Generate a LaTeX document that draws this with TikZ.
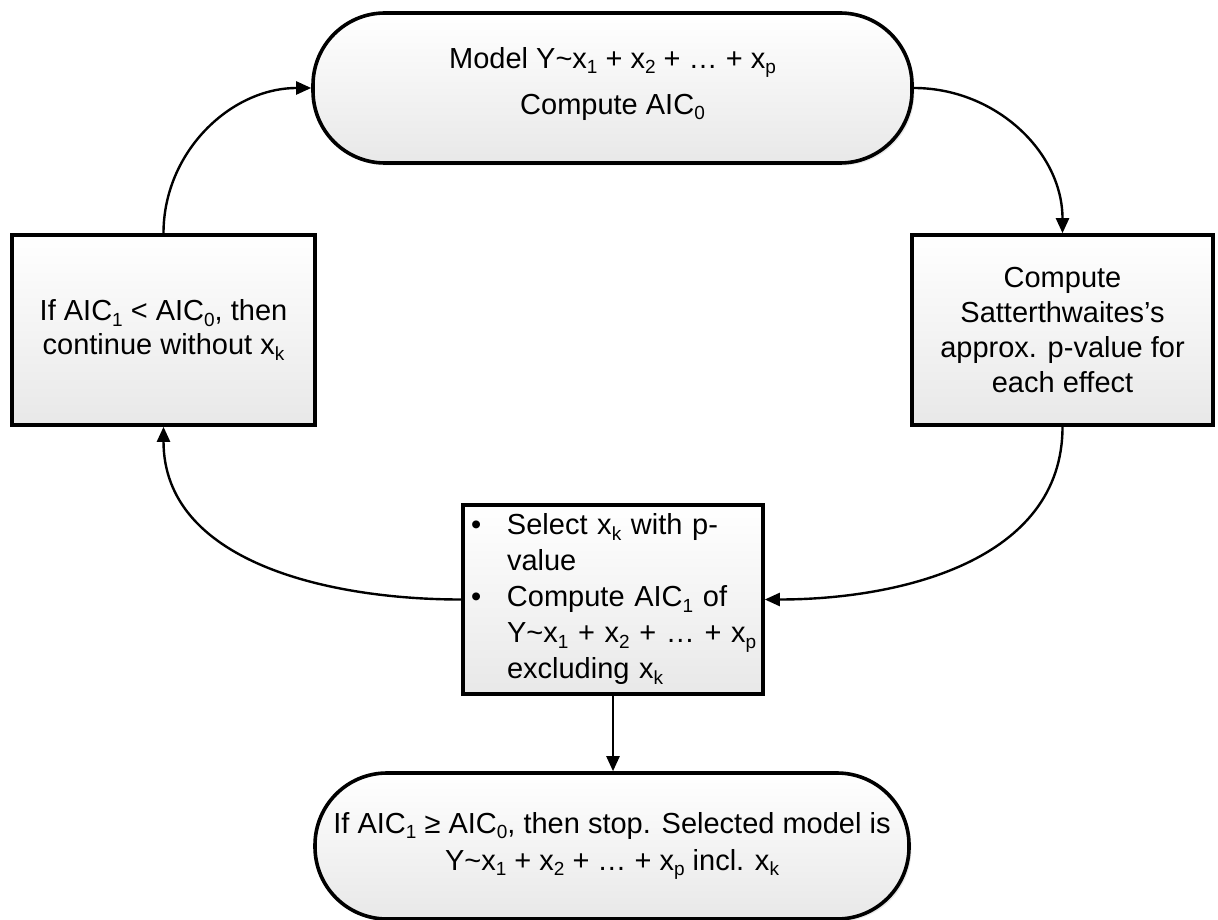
\documentclass[tikz,border=0pt]{standalone}
\usepackage{fontspec}
\setmainfont{Liberation Sans}
\usetikzlibrary{arrows.meta,shadows}
\newcommand{\sbx}[1]{\raisebox{-0.35ex}{\fontsize{9.5}{9.5}\selectfont #1}}
\tikzset{
  boxbase/.style={draw=black, line width=1.8pt, top color=white, bottom color=black!9,
    drop shadow={opacity=0.18,shadow xshift=1.2pt,shadow yshift=-1.2pt},
    font=\fontsize{14.5}{17}\selectfont, align=center, inner sep=0pt},
  procbox/.style={boxbase, rectangle},
  termbox/.style={boxbase, rectangle, rounded corners=36pt},
  plaintext/.style={font=\fontsize{14.5}{18.5}\selectfont, align=center, inner sep=0pt},
  conn/.style={line width=1.2pt, -{Triangle[length=7.5pt,width=6.5pt]}},
}
\begin{document}
\begin{tikzpicture}[x=0.5pt,y=-0.5pt]
\useasboundingbox (0,0) rectangle (1218,919);
\node[termbox, minimum width=299.5pt, minimum height=75pt] (top) at (612.5,88) {};
\node[plaintext, font=\fontsize{14.5}{17}\selectfont] (toptext) at (612.5,84)
  {Model Y\textasciitilde x\sbx{1} + x\sbx{2} + \ldots{} + x\sbx{p}\\[6pt] Compute AIC\sbx{0}};
\node[procbox, minimum width=151.5pt, minimum height=95pt] (left) at (163.5,330)
  {If AIC\sbx{1} < AIC\sbx{0}, then\\continue without x\sbx{k}};
\node[procbox, minimum width=150.5pt, minimum height=95pt, font=\fontsize{14.5}{17.5}\selectfont] (right) at (1062.5,330)
  {Compute\\Satterthwaites's\\approx. p-value for\\each effect};
\node[procbox, minimum width=150pt, minimum height=94.5pt, text width=142pt, align=left, font=\fontsize{14.5}{18}\selectfont] (center) at (613,599.5)
  {\begin{tabular}{@{}p{18pt}@{}l@{}}
   \textbullet & Select x\sbx{k} with p-\\
               & value\\
   \textbullet & Compute AIC\sbx{1} of\\
               & Y\textasciitilde x\sbx{1} + x\sbx{2} + \ldots{} + x\sbx{p}\\
               & excluding x\sbx{k}
   \end{tabular}};
\node[termbox, minimum width=297pt, minimum height=73pt] (bottom) at (612,846) {};
\node[plaintext] (bottomtext) at (612,846)
  {If AIC\sbx{1} ≥ AIC\sbx{0}, then stop. Selected model is\\Y\textasciitilde x\sbx{1} + x\sbx{2} + \ldots{} + x\sbx{p} incl. x\sbx{k}};
\draw[conn] (left.north) to[out=90,in=180] (top.west);
\draw[conn] (top.east) to[out=0,in=90] (right.north);
\draw[conn] (right.south) to[out=-90,in=0] (center.east);
\draw[conn] (center.west) to[out=180,in=-90] (left.south);
\draw[conn] (center.south) -- (center.south |- bottom.north);
\end{tikzpicture}
\end{document}
